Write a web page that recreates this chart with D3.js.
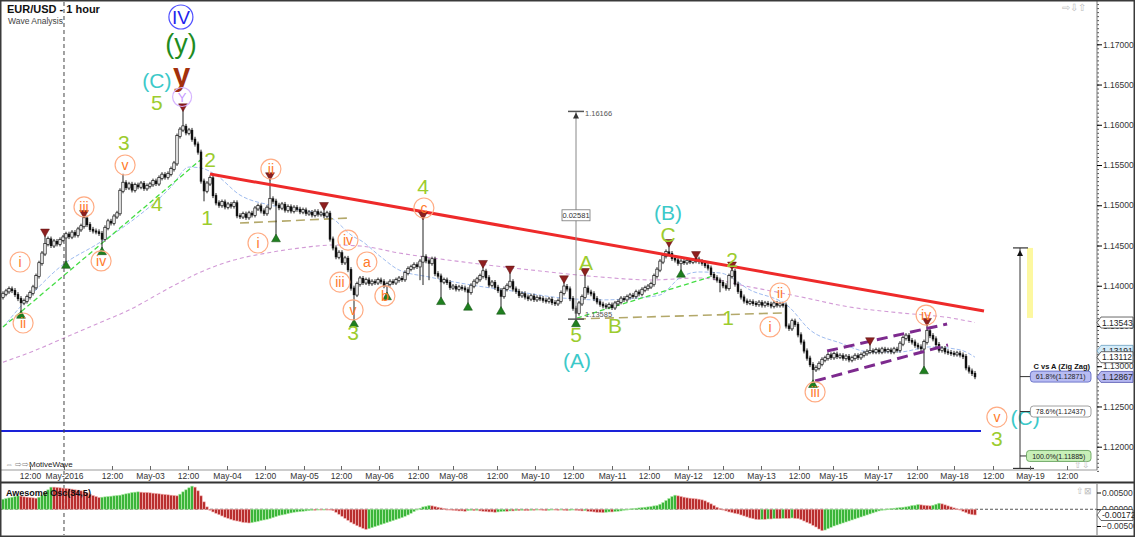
<!DOCTYPE html>
<html><head><meta charset="utf-8">
<script src="https://cdn.jsdelivr.net/npm/d3@7/dist/d3.min.js"></script>
<style>
html,body{margin:0;padding:0;background:#fff;overflow:hidden}
svg{display:block}
text{font-family:"Liberation Sans",Arial,Helvetica,sans-serif}
</style></head><body>
<svg id="chart" width="1135" height="537"></svg>
<script>
// ================= DATA =================
const title = "EUR/USD - 1 hour";
const subtitle = "Wave Analysis";
const firstOpen = 1.1386;
// hourly closes, bar index 1..325
const closes = [
1.1390,1.1393,1.1396,1.1394,1.1389,1.1384,1.1379,1.1381,1.1386,1.1391,
1.1398,1.1412,1.1428,1.1440,1.1452,1.1458,1.1450,1.1455,1.1452,1.1457,
1.1460,1.1464,1.1461,1.1466,1.1463,1.1470,1.1474,1.1484,1.1476,1.1470,
1.1468,1.1467,1.1465,1.1458,1.1472,1.1480,1.1478,1.1486,1.1490,1.1518,
1.1528,1.1522,1.1526,1.1519,1.1525,1.1523,1.1527,1.1521,1.1524,1.1526,
1.1530,1.1527,1.1534,1.1538,1.1535,1.1539,1.1545,1.1552,1.1586,1.1594,
1.1598,1.1590,1.1593,1.1582,1.1576,1.1566,1.1530,1.1518,1.1527,1.1534,
1.1512,1.1503,1.1500,1.1504,1.1498,1.1501,1.1499,1.1503,1.1487,1.1486,
1.1489,1.1485,1.1490,1.1488,1.1496,1.1499,1.1493,1.1490,1.1497,1.1508,
1.1505,1.1500,1.1497,1.1501,1.1494,1.1498,1.1493,1.1497,1.1495,1.1492,
1.1494,1.1490,1.1491,1.1488,1.1492,1.1489,1.1490,1.1487,1.1490,1.1458,
1.1447,1.1436,1.1441,1.1429,1.1434,1.1420,1.1397,1.1389,1.1402,1.1409,
1.1404,1.1407,1.1403,1.1405,1.1404,1.1407,1.1405,1.1400,1.1402,1.1405,
1.1404,1.1407,1.1409,1.1408,1.1416,1.1421,1.1423,1.1426,1.1424,1.1430,
1.1436,1.1431,1.1428,1.1433,1.1415,1.1412,1.1405,1.1407,1.1404,1.1398,
1.1399,1.1396,1.1398,1.1397,1.1395,1.1392,1.1400,1.1405,1.1408,1.1412,
1.1418,1.1410,1.1401,1.1404,1.1398,1.1394,1.1387,1.1396,1.1400,1.1405,
1.1396,1.1393,1.1388,1.1390,1.1386,1.1384,1.1387,1.1383,1.1385,1.1384,
1.1382,1.1381,1.1383,1.1379,1.1378,1.1381,1.1391,1.1399,1.1396,1.1384,
1.1372,1.1366,1.1378,1.1386,1.1397,1.1392,1.1390,1.1384,1.1380,1.1377,
1.1375,1.1374,1.1376,1.1373,1.1378,1.1380,1.1384,1.1383,1.1386,1.1388,
1.1387,1.1392,1.1390,1.1395,1.1397,1.1399,1.1402,1.1412,1.1420,1.1430,
1.1437,1.1442,1.1440,1.1434,1.1432,1.1428,1.1430,1.1429,1.1431,1.1430,
1.1431,1.1433,1.1430,1.1428,1.1425,1.1422,1.1414,1.1410,1.1407,1.1404,
1.1400,1.1397,1.1412,1.1418,1.1402,1.1393,1.1386,1.1381,1.1379,1.1380,
1.1378,1.1377,1.1379,1.1376,1.1378,1.1377,1.1375,1.1378,1.1376,1.1377,
1.1376,1.1350,1.1347,1.1356,1.1352,1.1339,1.1330,1.1319,1.1310,1.1302,
1.1296,1.1298,1.1303,1.1308,1.1310,1.1314,1.1311,1.1315,1.1312,1.1313,
1.1310,1.1312,1.1308,1.1310,1.1313,1.1311,1.1314,1.1316,1.1318,1.1319,
1.1318,1.1320,1.1318,1.1321,1.1319,1.1320,1.1318,1.1321,1.1320,1.1328,
1.1335,1.1338,1.1332,1.1330,1.1326,1.1324,1.1322,1.1330,1.1344,1.1338,
1.1334,1.1327,1.1320,1.1322,1.1318,1.1317,1.1316,1.1315,1.1316,1.1314,
1.1312,1.1298,1.1294,1.1291,1.1287
];
// wick extremes [barIndex, price]
const wickHighs = [[15,1.1461],[28,1.1484],[41,1.1536],[61,1.16166],[90,1.1531],[108,1.1494],[141,1.1482],
  [161,1.1422],[170,1.1415],[188,1.1403],[195,1.1412],[223,1.1448],[232,1.1432],[244,1.1420],[290,1.1326],[309,1.1350]];
const wickLows = [[7,1.1369],[22,1.1431],[34,1.1448],[68,1.1508],[92,1.1464],[118,1.13585],[129,1.1392],[140,1.1410],
  [141,1.1404],[143,1.1410],[147,1.1386],[156,1.1379],[167,1.1374],[192,1.13585],[227,1.1420],[240,1.1395],[271,1.1283],[308,1.1300]];
// swing markers (bar indices)
const pivotHighs = [15,28,61,90,108,141,161,170,188,195,223,232,244,290,309];
const pivotLows = [7,22,34,92,118,129,147,156,167,192,227,271,308];
// moving averages [barIndex, price]
const maFast = [[1,1.13487],[11,1.13910],[20,1.14233],[33,1.14531],[43,1.14779],[57,1.15227],[63,1.15475],[67,1.15463],
  [72,1.15376],[80,1.15127],[90,1.15003],[100,1.14941],[110,1.14854],[118,1.14606],[120,1.14568],[127,1.14357],[133,1.14196],
  [143,1.14109],[157,1.14010],[173,1.13923],[187,1.13849],[200,1.13824],[213,1.13849],[220,1.13886],[227,1.14109],[233,1.14171],
  [240,1.14159],[250,1.13948],[263,1.13737],[270,1.13451],[280,1.13290],[290,1.13178],[300,1.13178],[310,1.13240],[320,1.13203],[325,1.13112]];
const maSlow = [[1,1.13050],[12,1.13201],[22,1.13362],[33,1.13536],[43,1.13698],[57,1.13984],[67,1.14171],[78,1.14320],
  [89,1.14407],[100,1.14469],[111,1.14506],[120,1.14494],[133,1.14407],[157,1.14283],[177,1.14196],[200,1.14109],[217,1.14072],
  [233,1.14097],[250,1.13985],[267,1.13861],[283,1.13737],[300,1.13663],[317,1.13600],[325,1.13543]];
// drawn lines [[idx,price],[idx,price]]
const redTrend = [[70,1.15388],[328,1.13686]];
const blueLevel = [[0,1.12195],[327,1.12195]];
const greenLines = [[[1,1.13487],[68,1.15600]],[[192.3,1.13599],[236.7,1.14109]]];
const khakiLines = [[[80,1.14779],[116,1.14841]],[[192.3,1.13587],[261,1.13662]]];
const channel = [[[275.7,1.13189],[315.7,1.13525]],[[271.7,1.12816],[316,1.13264]]];
// wave labels [text, idx, price, style]
const waveLabels = [
 ["IV",60.3,1.17339,"blueC"],["(y)",60.3,1.17004,"green"],["y",60.5,1.16619,"brown"],["(C)",52.3,1.16556,"cyan"],
 ["5",52.3,1.16271,"lime"],["Y",60.7,1.16345,"lavC"],["3",41.3,1.15785,"lime"],["v",41.7,1.15500,"orC"],
 ["4",52.3,1.15028,"lime"],["iii",28,1.14979,"orC"],["iv",33.7,1.14308,"orC"],["i",6.7,1.14295,"orC"],
 ["ii",7.7,1.13537,"orC"],["2",70,1.15565,"lime"],["1",69,1.14842,"lime"],["ii",90.3,1.15450,"orC"],
 ["i",86,1.14531,"orC"],["iv",116,1.14568,"orC"],["iii",113.3,1.14046,"orC"],["a",122.3,1.14295,"orC"],
 ["v",117.7,1.13700,"orC"],["3",117.7,1.13414,"lime"],["b",128.3,1.13874,"orC"],["4",141,1.15227,"lime"],
 ["c",141.3,1.14966,"orC"],["A",195.3,1.14283,"lime"],["5",192,1.13388,"lime"],["(A)",192.3,1.13077,"cyan"],
 ["B",205,1.13512,"lime"],["(B)",222.7,1.14916,"cyan"],["C",222.7,1.14631,"lime"],["2",244,1.14320,"lime"],
 ["ii",260,1.13910,"orC"],["1",242.7,1.13600,"lime"],["i",256.7,1.13488,"orC"],["iii",271.7,1.12680,"orC"],
 ["iv",308.7,1.13636,"orC"],["v",332.3,1.12368,"orC"],["(C)",341.7,1.12368,"cyan"],["3",332.3,1.12107,"lime"]
];
// measurement tool
const measure = {idx:192, top:1.16166, bottom:1.13585, diff:"0.02581"};
// fibonacci projection "C vs A (Zig Zag)"
const fibTitle = "C vs A (Zig Zag)";
const fibIdx = 340, fibTop = 1.1447, fibBottom = 1.1173, fibZoneLow = 1.1360;
const fibLevels = [["61.8%",1.12871],["78.6%",1.12437],["100.0%",1.11885]];
// axis
const priceTicks = [1.12,1.125,1.13,1.135,1.14,1.145,1.15,1.155,1.16,1.165,1.17];
const axisTags = [1.13543,1.13191,1.13112,1.12867];
const timeTickIdx = [10,21.33,37.33,50,62.67,75.67,88.33,101.33,113.67,126.33,139.33,151,165.67,178.33,191,204,216.33,229.33,241,253.67,266.33,277.67,292.67,305.67,318,331,343.33,355.67];
const timeTickLbl = ["12:00","May-2016","12:00","May-03","12:00","May-04","12:00","May-05","12:00","May-06","12:00","May-08","12:00","May-10","12:00","May-11","12:00","May-12","12:00","May-13","12:00","May-15","May-17","12:00","May-18","12:00","May-19","12:00"];
// Awesome Oscillator (34,5), bar index 1..325
const aoTitle = "Awesome Osc(34,5)";
const ao = [
0.0030,0.0032,0.0034,0.0036,0.0038,0.0040,
0.0039,0.0037,0.0036,0.0035,0.0034,0.0033,
0.0036,0.0042,0.0050,0.0058,0.0066,
0.0066,0.0065,0.0064,0.0063,0.0062,0.0061,0.0060,0.0058,0.0057,0.0055,0.0052,0.0049,0.0045,0.0041,0.0038,0.0035,
0.0036,0.0037,0.0038,0.0039,0.0040,0.0041,0.0042,0.0044,0.0046,0.0048,0.0050,0.0051,0.0052,
0.0051,0.0050,0.0050,0.0049,0.0048,0.0047,0.0046,0.0045,0.0044,0.0043,0.0042,0.0041,0.0040,
0.0045,0.0052,0.0058,0.0064,0.0069,
0.0066,0.0055,0.0040,0.0022,0.0007,
-0.0003,-0.0008,-0.0012,-0.0016,-0.0020,-0.0024,-0.0027,-0.0030,-0.0033,-0.0035,-0.0037,-0.0039,-0.0040,-0.0041,
-0.0040,-0.0038,-0.0036,-0.0034,-0.0032,-0.0030,-0.0028,-0.0025,-0.0022,-0.0019,-0.0017,-0.0015,-0.0013,-0.0011,-0.0009,-0.0008,-0.0007,-0.0006,-0.0005,-0.0004,-0.0003,-0.0003,-0.0002,-0.0002,-0.0001,-0.0001,-0.0001,
-0.0004,-0.0009,-0.0015,-0.0021,-0.0027,-0.0033,-0.0039,-0.0044,-0.0049,-0.0053,-0.0057,-0.0060,
-0.0058,-0.0055,-0.0052,-0.0049,-0.0046,-0.0043,-0.0040,-0.0037,-0.0034,-0.0031,-0.0028,-0.0025,-0.0021,-0.0017,-0.0012,-0.0007,-0.0002,0.0003,0.0007,
0.0009,0.0011,0.0010,0.0008,
0.0006,0.0004,0.0002,0.0000,-0.0002,-0.0003,-0.0004,-0.0005,-0.0005,-0.0006,
-0.0004,-0.0003,-0.0004,-0.0003,-0.0005,-0.0006,
-0.0007,-0.0008,-0.0008,-0.0009,-0.0008,-0.0007,-0.0006,
-0.0006,-0.0005,-0.0005,-0.0004,-0.0004,-0.0003,-0.0004,-0.0004,-0.0003,-0.0003,-0.0002,-0.0002,
-0.0003,-0.0004,-0.0003,-0.0002,-0.0002,-0.0003,-0.0002,-0.0003,-0.0004,-0.0003,-0.0002,-0.0003,-0.0004,-0.0005,-0.0004,-0.0006,
-0.0007,-0.0008,-0.0009,-0.0009,-0.0010,-0.0009,-0.0008,-0.0008,-0.0007,-0.0006,
-0.0005,-0.0003,-0.0001,0.0001,0.0002,0.0003,0.0004,0.0005,0.0006,0.0007,0.0008,0.0010,0.0011,
0.0015,0.0020,0.0026,0.0032,0.0038,0.0042,
0.0040,0.0038,0.0036,0.0034,0.0033,0.0032,0.0031,0.0030,0.0028,0.0025,0.0021,0.0016,0.0011,0.0006,0.0002,
-0.0002,-0.0005,-0.0008,-0.0010,-0.0012,-0.0014,-0.0017,-0.0020,-0.0023,-0.0026,-0.0028,-0.0030,-0.0031,
-0.0030,-0.0030,-0.0029,-0.0029,-0.0028,-0.0028,-0.0028,-0.0027,-0.0027,-0.0027,-0.0026,-0.0027,-0.0028,
-0.0031,-0.0035,-0.0039,-0.0043,-0.0048,-0.0053,-0.0059,-0.0064,
-0.0062,-0.0058,-0.0054,-0.0050,-0.0047,-0.0044,-0.0041,-0.0038,-0.0035,-0.0032,-0.0029,-0.0026,-0.0023,-0.0020,-0.0017,-0.0014,-0.0011,-0.0008,-0.0005,-0.0003,-0.0001,
0.0001,0.0002,0.0003,0.0004,0.0005,0.0006,0.0007,0.0009,0.0011,0.0012,0.0014,
0.0013,0.0012,0.0011,0.0010,
0.0012,0.0015,0.0018,
0.0016,0.0013,0.0010,0.0007,0.0004,0.0001,-0.0002,-0.0006,-0.0010,-0.0014,
-0.0016,-0.0017
];
const aoTicks = [0.005,0,-0.005];
const aoLast = -0.00172;

// ================= DRAW =================
const svg = d3.select("#chart");
const AX = 1097;             // price axis x
const PB = 470;              // price panel bottom
const x = d3.scaleLinear().domain([0, AX/3]).range([0, AX]);
const y = d3.scaleLinear().domain([1.17, 1.12]).range([44.3, 446.7]);
const yo = d3.scaleLinear().domain([0.005, -0.005]).range([492.5, 526]);

svg.append("rect").attr("width",1135).attr("height",537).attr("fill","#fff");
const defs = svg.append("defs");
defs.append("clipPath").attr("id","clipMain").append("rect").attr("x",0).attr("y",0).attr("width",AX).attr("height",PB);
defs.append("clipPath").attr("id","clipOsc").append("rect").attr("x",0).attr("y",484).attr("width",AX).attr("height",51);

const main = svg.append("g").attr("clip-path","url(#clipMain)");
const line = d3.line().x(d=>x(d[0])).y(d=>y(d[1]));
const smooth = d3.line().x(d=>x(d[0])).y(d=>y(d[1])).curve(d3.curveMonotoneX);

// separator dashed line (May-2016)
svg.append("line").attr("x1",x(timeTickIdx[1])).attr("x2",x(timeTickIdx[1])).attr("y1",2).attr("y2",535)
  .attr("stroke","#444").attr("stroke-dasharray","4,3").attr("stroke-width",1);

// moving averages
main.append("path").attr("d",smooth(maSlow)).attr("fill","none").attr("stroke","#d29ad6").attr("stroke-width",1.1).attr("stroke-dasharray","4,3");
main.append("path").attr("d",smooth(maFast)).attr("fill","none").attr("stroke","#9fbcef").attr("stroke-width",1).attr("stroke-dasharray","4,2");

// blue level
main.append("path").attr("d",line(blueLevel)).attr("stroke","#1a22d8").attr("stroke-width",2);
// green and khaki dashed lines
greenLines.forEach(l=>main.append("path").attr("d",line(l)).attr("stroke","#44dd44").attr("stroke-width",1.3).attr("stroke-dasharray","5,3"));
khakiLines.forEach(l=>main.append("path").attr("d",line(l)).attr("stroke","#b3a86a").attr("stroke-width",1.6).attr("stroke-dasharray","9,5"));

// candles
const hiMap = new Map(wickHighs), loMap = new Map(wickLows);
const bars = closes.map((c,k)=>{
  const i=k+1, o = k===0 ? firstOpen : closes[k-1];
  let h=Math.max(o,c), l=Math.min(o,c);
  if(hiMap.has(i)) h=Math.max(h,hiMap.get(i));
  if(loMap.has(i)) l=Math.min(l,loMap.get(i));
  return {i,o,c,h,l};
});
const barMap = new Map(bars.map(b=>[b.i,b]));
main.append("g").selectAll("line").data(bars).join("line")
  .attr("x1",d=>x(d.i)).attr("x2",d=>x(d.i))
  .attr("y1",d=>y(d.h)-2.5).attr("y2",d=>y(d.l)+2.5)
  .attr("stroke","#222").attr("stroke-width",1);
main.append("g").selectAll("rect").data(bars).join("rect")
  .attr("x",d=>x(d.i)-1.2).attr("width",2.4)
  .attr("y",d=>y(Math.max(d.o,d.c))-0.5)
  .attr("height",d=>Math.max(2,Math.abs(y(d.o)-y(d.c))+1))
  .attr("fill",d=>d.c>=d.o?"#ffffff":"#111")
  .attr("stroke","#111").attr("stroke-width",d=>d.c>=d.o?0.7:0);

// red trendline, purple channel
main.append("path").attr("d",line(redTrend)).attr("stroke","#ee2a2a").attr("stroke-width",3);
channel.forEach(l=>main.append("path").attr("d",line(l)).attr("stroke","#7d2a8e").attr("stroke-width",3).attr("stroke-dasharray","11,6"));

// pivot triangles
const tri = d3.symbol().type(d3.symbolTriangle).size(34);
main.append("g").selectAll("path").data(pivotHighs).join("path")
  .attr("d",tri).attr("transform",i=>`translate(${x(i)},${y(barMap.get(i).h)-5}) rotate(180)`)
  .attr("fill","#8e1f1f").attr("stroke","#5a0f0f").attr("stroke-width",0.5);
main.append("g").selectAll("path").data(pivotLows).join("path")
  .attr("d",tri).attr("transform",i=>`translate(${x(i)},${y(barMap.get(i).l)+5})`)
  .attr("fill","#1f7f1f").attr("stroke","#0e4a0e").attr("stroke-width",0.5);

// measurement tool
{
  const mx = x(measure.idx), t = y(measure.top), b = y(measure.bottom);
  const g = main.append("g");
  g.append("line").attr("x1",mx).attr("x2",mx).attr("y1",t).attr("y2",b).attr("stroke","#888").attr("stroke-width",1);
  g.append("line").attr("x1",mx-8).attr("x2",mx+8).attr("y1",t).attr("y2",t).attr("stroke","#555").attr("stroke-width",1.5);
  g.append("line").attr("x1",mx-8).attr("x2",mx+8).attr("y1",b).attr("y2",b).attr("stroke","#555").attr("stroke-width",1.5);
  g.append("path").attr("d",`M${mx-3},${t+7}L${mx},${t+1}L${mx+3},${t+7}Z`).attr("fill","#333");
  g.append("text").attr("x",mx+9).attr("y",t+5).attr("font-size",7.5).attr("fill","#555").text(measure.top.toFixed(5));
  g.append("text").attr("x",mx+9).attr("y",b-2).attr("font-size",7.5).attr("fill","#555").text(measure.bottom.toFixed(5));
  const my = y((measure.top+measure.bottom)/2);
  g.append("rect").attr("x",mx-14).attr("y",my-5.5).attr("width",28).attr("height",11).attr("fill","#fff").attr("stroke","#777").attr("stroke-width",0.8);
  g.append("text").attr("x",mx).attr("y",my+3).attr("text-anchor","middle").attr("font-size",7.5).attr("fill","#333").text(measure.diff);
}

// wave labels
const styles = {
  lime:{color:"#9ccc2e",size:21},
  cyan:{color:"#3cc9c9",size:21},
  green:{color:"#1f8c1f",size:27},
  brown:{color:"#a3300c",size:31,bold:true},
  orC:{color:"#ff7a2a",size:14,r:10,ring:"#ffac84"},
  blueC:{color:"#1e22ee",size:19,r:12,ring:"#5050ff"},
  lavC:{color:"#c69cff",size:13,r:9.5,ring:"#d6b4ff"}
};
const lg = main.append("g");
waveLabels.forEach(([t,i,p,s])=>{
  const st = styles[s], cx = x(i), cy = y(p);
  if(st.r){
    lg.append("circle").attr("cx",cx).attr("cy",cy).attr("r",st.r).attr("fill","none").attr("stroke",st.ring).attr("stroke-width",1.2);
  }
  lg.append("text").attr("x",cx).attr("y",cy).attr("text-anchor","middle").attr("dominant-baseline","central")
    .attr("font-size",st.size).attr("font-weight",st.bold?"bold":"normal").attr("fill",st.color).text(t);
});

// fib projection tool
{
  const fx = x(fibIdx), g = svg.append("g");
  g.append("rect").attr("x",fx+7).attr("y",y(fibTop)).attr("width",6).attr("height",y(fibZoneLow)-y(fibTop)).attr("fill","#fdf8a0");
  g.append("line").attr("x1",fx).attr("x2",fx).attr("y1",y(fibTop)).attr("y2",y(fibBottom)).attr("stroke","#333").attr("stroke-width",1);
  g.append("line").attr("x1",fx-7).attr("x2",fx+8).attr("y1",y(fibTop)).attr("y2",y(fibTop)).attr("stroke","#333").attr("stroke-width",1.2);
  g.append("line").attr("x1",fx-7).attr("x2",fx+14).attr("y1",y(fibBottom)).attr("y2",y(fibBottom)).attr("stroke","#333").attr("stroke-width",1.2);
  g.append("path").attr("d",`M${fx-3},${y(fibTop)+8}L${fx},${y(fibTop)+2}L${fx+3},${y(fibTop)+8}Z`).attr("fill","#111");
  const fills = ["#b8bcf2","#ffffff","#c8f0b8"];
  const strokes = ["#5560c0","#888","#5a9a50"];
  fibLevels.forEach(([pct,p],k)=>{
    const ly = y(p), label = `${pct}(${p.toFixed(5)})`;
    const w = label.length*3.9+6, bx = 1091-w;
    g.append("line").attr("x1",fx).attr("x2",bx).attr("y1",ly).attr("y2",ly).attr("stroke","#333").attr("stroke-width",1);
    g.append("rect").attr("x",bx).attr("y",ly-5.5).attr("width",w).attr("height",11).attr("rx",3)
      .attr("fill",fills[k]).attr("stroke",strokes[k]).attr("stroke-width",0.8);
    g.append("text").attr("x",bx+w/2).attr("y",ly+2.8).attr("text-anchor","middle").attr("font-size",7).attr("fill","#222").text(label);
  });
  g.append("text").attr("x",1090).attr("y",y(fibLevels[0][1])-8).attr("text-anchor","end").attr("font-size",7.5).attr("font-weight","bold").attr("fill","#111").text(fibTitle);
}

// ---------- oscillator ----------
const og = svg.append("g").attr("clip-path","url(#clipOsc)");
og.append("line").attr("x1",0).attr("x2",AX).attr("y1",yo(0)).attr("y2",yo(0)).attr("stroke","#555").attr("stroke-dasharray","3,2");
og.append("g").selectAll("rect").data(ao).join("rect")
  .attr("x",(v,k)=>x(k+1)-1.2).attr("width",2.4)
  .attr("y",v=>Math.min(yo(v),yo(0))).attr("height",v=>Math.max(0.8,Math.abs(yo(v)-yo(0))))
  .attr("fill",(v,k)=> (k>0 && v>ao[k-1]) || (k===0) ? "#2fb02f" : "#b32222")
  .attr("stroke",(v,k)=> (k>0 && v>ao[k-1]) || (k===0) ? "#a8eaa0" : "#f0a8a8").attr("stroke-width",0.6);

// ---------- axes ----------
const xAxis = d3.axisBottom(x).tickValues(timeTickIdx).tickFormat((d,k)=>timeTickLbl[k]).tickSizeInner(-4).tickSizeOuter(0).tickPadding(3);
const xg = svg.append("g").attr("transform",`translate(0,${PB})`).call(xAxis);
xg.select(".domain").attr("stroke","#999").attr("d",`M0,0H${AX}`);
xg.selectAll(".tick line").attr("stroke","#666");
xg.selectAll("text").attr("font-size",8.5).attr("fill","#333").attr("font-family","Liberation Sans, Arial, sans-serif");

const minor = d3.range(1.1170,1.1756,0.0005);
svg.append("g").attr("transform",`translate(${AX},0)`).call(d3.axisRight(y).tickValues(minor).tickSize(2).tickFormat(""))
  .call(g=>{g.select(".domain").remove(); g.selectAll("line").attr("stroke","#555");});
const yAxis = d3.axisRight(y).tickValues(priceTicks).tickFormat(d3.format(".5f")).tickSize(5).tickPadding(1);
const yg = svg.append("g").attr("transform",`translate(${AX},0)`).call(yAxis);
yg.select(".domain").attr("stroke","#777").attr("d",`M0,0V${PB}`);
yg.selectAll("text").attr("font-size",8.5).attr("fill","#333").attr("font-family","Liberation Sans, Arial, sans-serif");

// price tags on axis
const tagFill = ["#ffffff","#d4ecfa","#ffffff","#b4b6f0"];
const tagStroke = ["#444","#6aa0c0","#444","#5558b0"];
const tagOrder = [1,0,2,3];
tagOrder.forEach(k=>{
  const p = axisTags[k], ty = y(p);
  svg.append("path").attr("d",`M${AX},${ty}L${AX+4},${ty-5.5}H1133V${ty+5.5}H${AX+4}Z`)
    .attr("fill",tagFill[k]).attr("stroke",tagStroke[k]).attr("stroke-width",0.8);
  svg.append("text").attr("x",AX+5).attr("y",ty+3).attr("font-size",8.5).attr("fill","#222").text(p.toFixed(5));
});

const oAxis = d3.axisRight(yo).tickValues(aoTicks).tickFormat(d3.format(".5f")).tickSize(4).tickPadding(1);
const oag = svg.append("g").attr("transform",`translate(${AX},0)`).call(oAxis);
oag.select(".domain").attr("stroke","#777").attr("d",`M0,484V535`);
oag.selectAll("text").attr("font-size",8.5).attr("fill","#333").attr("font-family","Liberation Sans, Arial, sans-serif");
{
  const ty = yo(aoLast);
  svg.append("path").attr("d",`M${AX},${ty}L${AX+4},${ty-5.5}H1133V${ty+5.5}H${AX+4}Z`).attr("fill","#fff").attr("stroke","#444").attr("stroke-width",0.8);
  svg.append("text").attr("x",AX+5).attr("y",ty+3).attr("font-size",8.5).attr("fill","#222").text(aoLast.toFixed(5));
}

// panel lines and frame
svg.append("line").attr("x1",0).attr("x2",1135).attr("y1",482.5).attr("y2",482.5).attr("stroke","#333").attr("stroke-width",2);
svg.append("rect").attr("x",0.75).attr("y",0.75).attr("width",1133.5).attr("height",535.5).attr("fill","none").attr("stroke","#3a3a3a").attr("stroke-width",1.5);

// texts
svg.append("text").attr("x",7).attr("y",13).attr("font-size",11).attr("font-weight","bold").attr("fill","#111").text(title);
svg.append("text").attr("x",8).attr("y",24).attr("font-size",8.5).attr("fill","#444").text(subtitle);
svg.append("text").attr("x",5).attr("y",467).attr("font-size",8).attr("fill","#888").attr("font-family","DejaVu Sans").text("⇔ ⇨⇨");
svg.append("text").attr("x",29).attr("y",467).attr("font-size",8).attr("fill","#222").text("MotiveWave");
svg.append("text").attr("x",6).attr("y",496).attr("font-size",9).attr("font-weight","bold").attr("fill","#111").text(aoTitle);
svg.append("text").attr("x",1062).attr("y",11).attr("font-size",10).attr("fill","#bbb").attr("font-family","DejaVu Sans").text("⇨⇩⇧");
svg.append("text").attr("x",1074).attr("y",468).attr("font-size",9).attr("fill","#bbb").attr("font-family","DejaVu Sans").text("⇧⇩");
svg.append("text").attr("x",1076).attr("y",494).attr("font-size",9).attr("fill","#bbb").attr("font-family","DejaVu Sans").text("⇧⊠");
</script>
</body></html>
